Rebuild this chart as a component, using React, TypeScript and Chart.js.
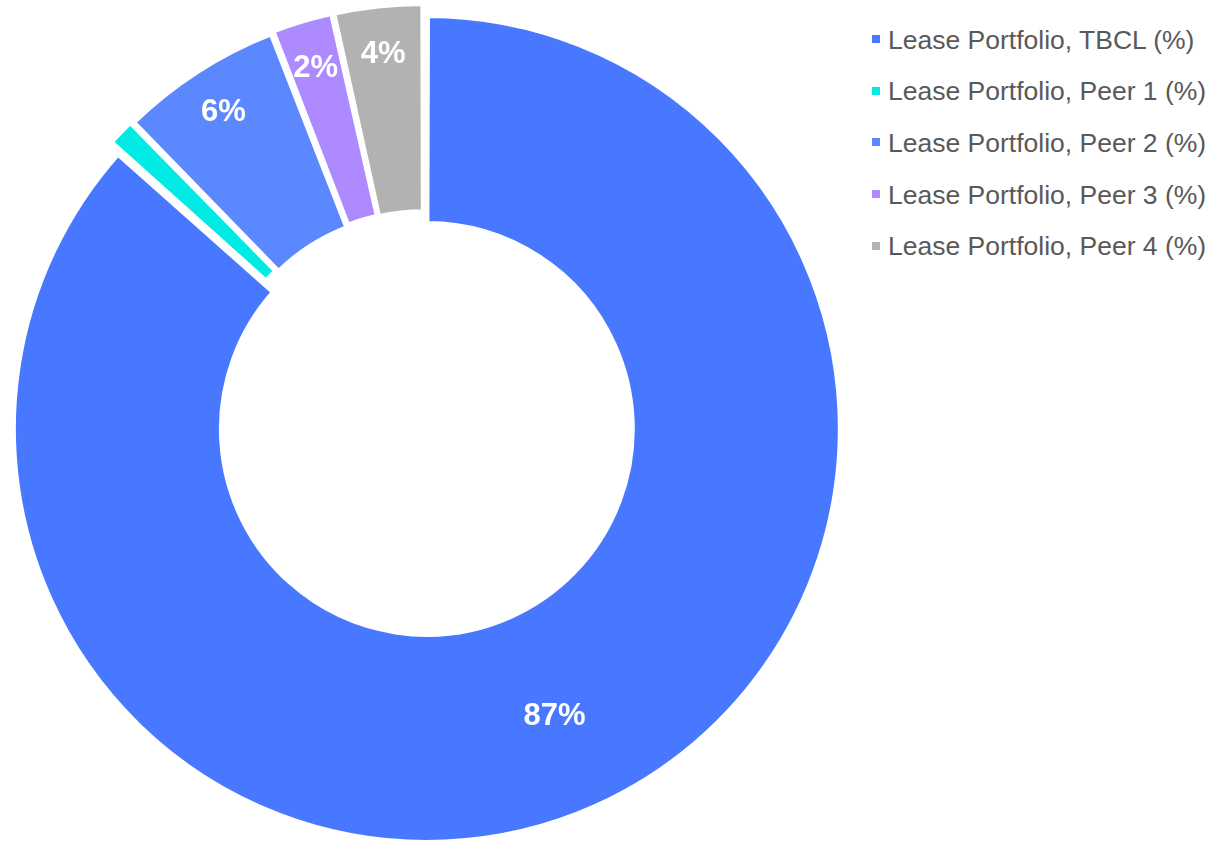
import React, { useEffect, useRef } from "react";
import { Chart, registerables } from "chart.js";

Chart.register(...registerables);

const categories = [
  "Lease Portfolio, TBCL (%)",
  "Lease Portfolio, Peer 1 (%)",
  "Lease Portfolio, Peer 2 (%)",
  "Lease Portfolio, Peer 3 (%)",
  "Lease Portfolio, Peer 4 (%)",
];
const values = [86.6, 1.1, 6.4, 2.4, 3.5];
const colors = ["#4878FF", "#00EBE4", "#5B87FF", "#AD8AFF", "#B2B2B2"];

const FONT = "'Liberation Sans', Arial, Helvetica, sans-serif";

const sliceLabels = {
  id: "sliceLabels",
  afterDatasetsDraw(chart: any) {
    const ctx = chart.ctx;
    const meta = chart.getDatasetMeta(0);
    const total = values.reduce((a, b) => a + b, 0);
    ctx.save();
    ctx.font = `bold 31px ${FONT}`;
    ctx.fillStyle = "#FFFFFF";
    ctx.textAlign = "center";
    ctx.textBaseline = "middle";
    meta.data.forEach((arc: any, i: number) => {
      const v = values[i];
      const share = v / total;
      if (share < 0.015) return;
      const p = arc.getProps(
        ["x", "y", "startAngle", "endAngle", "innerRadius", "outerRadius", "circumference"],
        true
      );
      const off = (arc.options.offset || 0) / 4;
      const h = (p.startAngle + p.endAngle) / 2;
      const fix = 1 - Math.sin(Math.min(Math.PI, p.circumference));
      const ro = off * fix;
      const frac = share < 0.1 ? 0.775 : 0.515;
      const r = off + p.innerRadius + ro + frac * (p.outerRadius - p.innerRadius);
      ctx.fillText(Math.round(v) + "%", p.x + Math.cos(h) * r, p.y + Math.sin(h) * r + 2);
    });
    ctx.restore();
  },
};

export default function App() {
  const canvasRef = useRef<HTMLCanvasElement | null>(null);

  useEffect(() => {
    if (!canvasRef.current) return;
    const chart = new Chart(canvasRef.current, {
      type: "doughnut",
      data: {
        labels: categories,
        datasets: [
          {
            data: values,
            backgroundColor: colors,
            borderColor: "#FFFFFF",
            borderWidth: 4,
            offset: 28,
            hoverOffset: 0,
          },
        ],
      },
      options: {
        animation: false,
        responsive: true,
        maintainAspectRatio: false,
        events: [],
        radius: 406,
        cutout: "49%",
        layout: { padding: { top: 2, left: 0, right: 0, bottom: 0 } },
        plugins: {
          legend: { display: false },
          tooltip: { enabled: false },
        },
      } as any,
      plugins: [sliceLabels],
    });
    return () => chart.destroy();
  }, []);

  return (
    <div
      style={{
        position: "absolute",
        left: 0,
        top: 0,
        width: 1216,
        height: 843,
        background: "#FFFFFF",
        overflow: "hidden",
      }}
    >
      <div style={{ position: "absolute", left: 0, top: 0, width: 848, height: 843 }}>
        <canvas ref={canvasRef} />
      </div>
      <div style={{ position: "absolute", left: 872, top: 14.5 }}>
        {categories.map((c, i) => (
          <div
            key={c}
            style={{
              height: 51.6,
              display: "flex",
              alignItems: "center",
              fontFamily: FONT,
              fontSize: 26.5,
              color: "#595959",
              whiteSpace: "nowrap",
            }}
          >
            <span
              style={{
                display: "inline-block",
                width: 8,
                height: 8,
                background: colors[i],
                marginRight: 8,
                marginTop: -2,
              }}
            />
            <span>{c}</span>
          </div>
        ))}
      </div>
    </div>
  );
}
